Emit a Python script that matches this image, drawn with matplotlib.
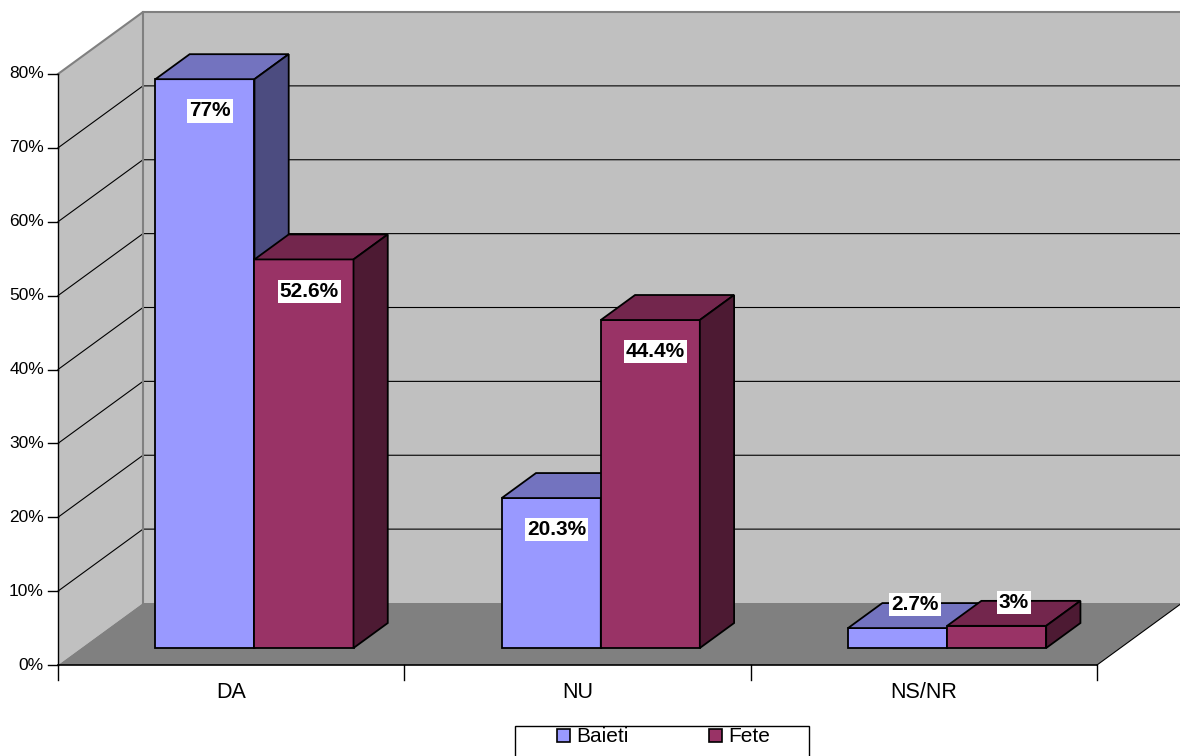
import matplotlib
matplotlib.use("Agg")
import matplotlib.pyplot as plt
from matplotlib.patches import Polygon, Rectangle

plt.rcParams['font.family'] = ['Liberation Sans', 'DejaVu Sans']

categories = ['DA', 'NU', 'NS/NR']
series = ['Baieti', 'Fete']
baieti = [77, 20.3, 2.7]
fete = [52.6, 44.4, 3]
labels_b = ['77%', '20.3%', '2.7%']
labels_f = ['52.6%', '44.4%', '3%']
yticks = [0, 10, 20, 30, 40, 50, 60, 70, 80]

# colours: front, top, side
col_b = ('#9999FF', '#7373BF', '#4C4C80')
col_f = ('#993366', '#73264D', '#4D1A33')

W, H = 1180, 756
fig = plt.figure(figsize=(W / 100, H / 100), dpi=100)
ax = fig.add_axes([0, 0, 1, 1])
# pixel mapping: category 0 edge at px 58, 3 at px 1097; 0% at px 665 (from top), 7.3875 px per %
sx = (1097 - 58) / 3.0
sy = 591 / 80.0
ax.set_xlim(-58 / sx, (W - 58) / sx)
ax.set_ylim(-(H - 665) / sy, 665 / sy)
ax.axis('off')

DX = 85 / sx   # depth offset in x units
DY = 62 / sy   # depth offset in % units
YMAX = 80
NCAT = len(categories)


def P(x, y, z):
    return (x + z * DX, y + z * DY)


def poly(pts, fc, ec='none', lw=0, z=1):
    ax.add_patch(Polygon(pts, closed=True, facecolor=fc, edgecolor=ec, linewidth=lw, zorder=z))


# walls and floor
poly([P(0, 0, 1), P(NCAT, 0, 1), P(NCAT, YMAX, 1), P(0, YMAX, 1)], '#C0C0C0')
poly([P(0, 0, 0), P(0, YMAX, 0), P(0, YMAX, 1), P(0, 0, 1)], '#C0C0C0')
poly([P(0, 0, 0), P(NCAT, 0, 0), P(NCAT, 0, 1), P(0, 0, 1)], '#808080')

# gridlines
for v in yticks[1:-1]:
    xs, ys = zip(P(0, v, 0), P(0, v, 1), P(NCAT, v, 1))
    ax.plot(xs, ys, color='black', lw=0.8, zorder=2)
# wall borders
xs, ys = zip(P(0, YMAX, 0), P(0, YMAX, 1), P(NCAT, YMAX, 1))
ax.plot(xs, ys, color='#808080', lw=1.5, zorder=2)
xs, ys = zip(P(0, 0, 1), P(0, YMAX, 1))
ax.plot(xs, ys, color='#808080', lw=1.5, zorder=2)
xs, ys = zip(P(NCAT, 0, 0), P(NCAT, 0, 1))
ax.plot(xs, ys, color='black', lw=0.8, zorder=2)

# axes lines and ticks
ax.plot([0, 0], [0, YMAX], color='black', lw=1, zorder=3)
ax.plot([0, NCAT], [0, 0], color='black', lw=1.2, zorder=3)
tk = 10 / sx
for v in yticks:
    ax.plot([-tk, 0], [v, v], color='black', lw=1, zorder=3)
    ax.text(-14 / sx, v, f'{v}%', ha='right', va='center', fontsize=12.5, zorder=3)
for i in range(NCAT + 1):
    ax.plot([i, i], [0, -15 / sy], color='black', lw=1, zorder=3)
for i, c in enumerate(categories):
    ax.text(i + 0.5, -28 / sy, c, ha='center', va='center', fontsize=15.5, zorder=3)

# bars
z0, z1 = 0.274, 0.677
bw = 0.286


def bar3d(x0, v, cols):
    x1 = x0 + bw
    ec = 'black'
    poly([P(x0, 0, z0), P(x1, 0, z0), P(x1, v, z0), P(x0, v, z0)], cols[0], ec, 1.3, 4)
    poly([P(x0, v, z0), P(x1, v, z0), P(x1, v, z1), P(x0, v, z1)], cols[1], ec, 1.3, 4)
    poly([P(x1, 0, z0), P(x1, v, z0), P(x1, v, z1), P(x1, 0, z1)], cols[2], ec, 1.3, 4)


def label(x0, v, txt):
    xc = x0 + bw / 2
    if v >= 10:
        px, py = P(xc + 0.015, v - 4.3, z0)
    else:
        px, py = P(xc + 0.05, v + 3.2, z0)
    ax.text(px, py, txt, ha='center', va='center', fontsize=15, fontweight='bold', zorder=6,
            bbox=dict(facecolor='white', edgecolor='none', pad=1.5))


for i in range(NCAT):
    xb = i + 0.5 - bw
    xf = i + 0.5
    bar3d(xb, baieti[i], col_b)
    bar3d(xf, fete[i], col_f)
    label(xb, baieti[i], labels_b[i])
    label(xf, fete[i], labels_f[i])

# legend box (drawn by hand to match the wide padding)
def fx(px):
    return px / W


def fy(py):
    return 1 - py / H


fig.patches.append(Rectangle((fx(515), fy(770)), fx(809) - fx(515), fy(726) - fy(770),
                             transform=fig.transFigure, facecolor='white', edgecolor='black', lw=1))
for (x0, name, cols) in [(557, series[0], col_b), (709, series[1], col_f)]:
    fig.patches.append(Rectangle((fx(x0), fy(742)), 13 / W, 13 / H, transform=fig.transFigure,
                                 facecolor=cols[0], edgecolor='black', lw=1.2))
    fig.text(fx(x0 + 19), fy(736), name, ha='left', va='center', fontsize=15)

fig.savefig('out.png', dpi=100)
